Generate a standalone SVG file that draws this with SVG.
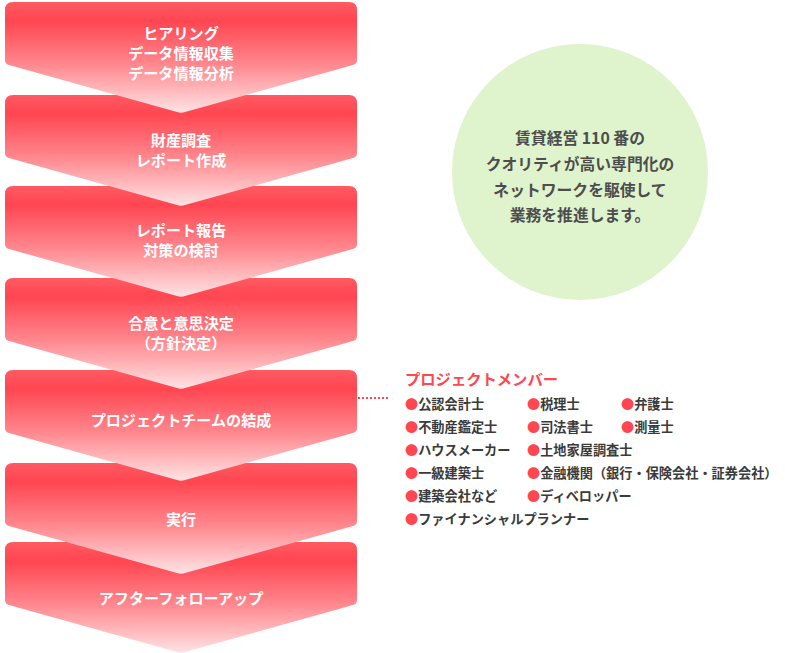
<svg xmlns="http://www.w3.org/2000/svg" xmlns:xlink="http://www.w3.org/1999/xlink" width="785" height="653" viewBox="0 0 785 653">
<defs>
<linearGradient id="g" x1="0" y1="0" x2="0" y2="1">
<stop offset="0" stop-color="#ff5a63"/>
<stop offset="0.17" stop-color="#ff4651"/>
<stop offset="0.55" stop-color="#ff858c"/>
<stop offset="0.85" stop-color="#ffc3c6"/>
<stop offset="1" stop-color="#fde3e4"/>
</linearGradient>
<path id="chev" d="M5,8 Q5,0 13,0 H349 Q357,0 357,8 V58 Q357,62 353,63 L185,110 Q181,111.3 177,110 L9,63 Q5,62 5,58 Z" fill="url(#g)"/>
</defs>
<style>
.st{font-family:"Noto Sans CJK JP","Noto Sans",sans-serif;font-weight:bold;font-size:15.1px;fill:#ffffff;text-anchor:middle}
.ct{font-family:"Noto Sans CJK JP","Noto Sans",sans-serif;font-weight:bold;font-size:15.8px;fill:#4d4d4d;text-anchor:middle}
.lt{font-family:"Noto Sans CJK JP","Noto Sans",sans-serif;font-weight:bold;font-size:13.2px;fill:#3a3a3a}
.b{fill:#ff4651}
.ttl{font-family:"Noto Sans CJK JP","Noto Sans",sans-serif;font-weight:bold;font-size:15.3px;fill:#ff4651}
</style>
<rect width="785" height="653" fill="#ffffff"/>
<g id="step7"><use xlink:href="#chev" y="542"/><text class="st" x="181" y="604">アフターフォローアップ</text></g>
<g id="step6"><use xlink:href="#chev" y="463"/><text class="st" x="181" y="525">実行</text></g>
<g id="step5"><use xlink:href="#chev" y="370"/><text class="st" x="181" y="426">プロジェクトチームの結成</text></g>
<g id="step4"><use xlink:href="#chev" y="278"/><text class="st" x="181" y="329">合意と意思決定</text><text class="st" x="181" y="349">（方針決定）</text></g>
<g id="step3"><use xlink:href="#chev" y="186"/><text class="st" x="181" y="236">レポート報告</text><text class="st" x="181" y="256">対策の検討</text></g>
<g id="step2"><use xlink:href="#chev" y="95"/><text class="st" x="181" y="146">財産調査</text><text class="st" x="181" y="166">レポート作成</text></g>
<g id="step1"><use xlink:href="#chev" y="2"/><text class="st" x="181" y="39">ヒアリング</text><text class="st" x="181" y="59">データ情報収集</text><text class="st" x="181" y="79">データ情報分析</text></g>
<g id="circle">
<circle cx="580" cy="172" r="128" fill="#dff3cd"/>
<text class="ct" x="580" y="144">賃貸経営 110 番の</text>
<text class="ct" x="580" y="170">クオリティが高い専門化の</text>
<text class="ct" x="580" y="196">ネットワークを駆使して</text>
<text class="ct" x="580" y="221">業務を推進します。</text>
</g>
<g id="connectors">
<line x1="358" y1="398" x2="389" y2="398" stroke="#ff4651" stroke-width="2" stroke-dasharray="2,2"/>
</g>
<g id="members">
<text class="ttl" x="405" y="385">プロジェクトメンバー</text>
<text class="lt" x="405" y="409"><tspan class="b">●</tspan>公認会計士</text>
<text class="lt" x="527" y="409"><tspan class="b">●</tspan>税理士</text>
<text class="lt" x="621" y="409"><tspan class="b">●</tspan>弁護士</text>
<text class="lt" x="405" y="432"><tspan class="b">●</tspan>不動産鑑定士</text>
<text class="lt" x="527" y="432"><tspan class="b">●</tspan>司法書士</text>
<text class="lt" x="621" y="432"><tspan class="b">●</tspan>測量士</text>
<text class="lt" x="405" y="455"><tspan class="b">●</tspan>ハウスメーカー</text>
<text class="lt" x="527" y="455"><tspan class="b">●</tspan>土地家屋調査士</text>
<text class="lt" x="405" y="478"><tspan class="b">●</tspan>一級建築士</text>
<text class="lt" x="527" y="478"><tspan class="b">●</tspan>金融機関（銀行・保険会社・証券会社）</text>
<text class="lt" x="405" y="501"><tspan class="b">●</tspan>建築会社など</text>
<text class="lt" x="527" y="501"><tspan class="b">●</tspan>ディベロッパー</text>
<text class="lt" x="405" y="524"><tspan class="b">●</tspan>ファイナンシャルプランナー</text>
</g>
</svg>
